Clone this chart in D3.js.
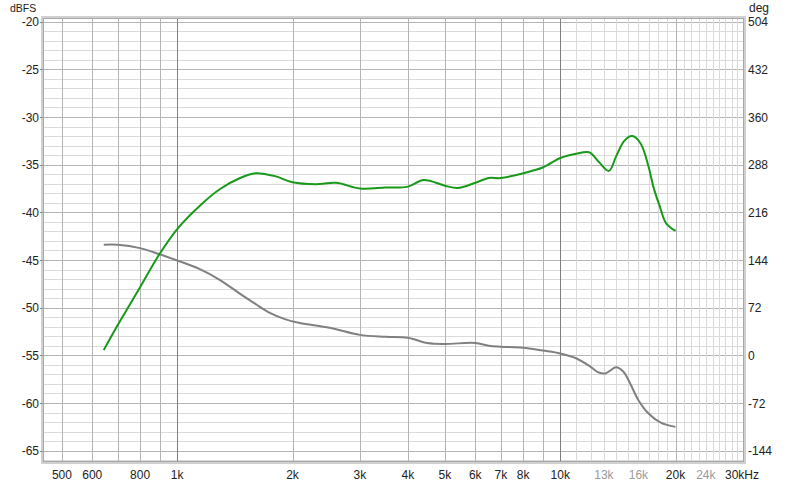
<!DOCTYPE html>
<html>
<head>
<meta charset="utf-8">
<script src="https://cdn.jsdelivr.net/npm/d3@7"></script>
<style>
  body { margin: 0; background: #fff; }
  text { font-family: "Liberation Sans", Arial, sans-serif; font-size: 12px; fill: #222; }
</style>
</head>
<body>
<script>
// frequency (Hz) / level (dBFS)
const greenFreq = [643, 700, 800, 900, 1000, 1146, 1294, 1460, 1600, 1800, 2000, 2300, 2600, 3000, 3500, 4000, 4400, 5000, 5400, 6000, 6500, 7000, 8000, 9000, 10000, 11000, 11900, 12600, 13400, 14000, 14700, 15400, 16200, 17000, 17500, 18200, 18900, 20000];
const greenDb   = [-54.45, -51.8, -47.85, -44.35, -41.75, -39.3, -37.55, -36.4, -35.9, -36.2, -36.85, -37.05, -36.9, -37.5, -37.4, -37.3, -36.6, -37.2, -37.45, -36.9, -36.4, -36.4, -35.9, -35.3, -34.3, -33.85, -33.7, -34.7, -35.65, -34.1, -32.5, -32.0, -32.75, -35.2, -37.3, -39.4, -41.15, -41.95];

const grayFreq = [643, 700, 800, 900, 1000, 1146, 1294, 1460, 1600, 1745, 1910, 2090, 2500, 3000, 3500, 4000, 4500, 5000, 6000, 6500, 7000, 8000, 9000, 10000, 11000, 12000, 12600, 13100, 14000, 14600, 15200, 16000, 17000, 18300, 20000];
const grayDb   = [-43.4, -43.4, -43.75, -44.4, -45.05, -45.95, -47.1, -48.55, -49.6, -50.55, -51.2, -51.6, -52.1, -52.85, -53.05, -53.15, -53.7, -53.8, -53.7, -54.0, -54.1, -54.2, -54.5, -54.8, -55.3, -56.2, -56.8, -56.9, -56.25, -56.7, -57.9, -59.7, -61.1, -62.05, -62.5];

const xTickFreq  = [500, 600, 800, 1000, 2000, 3000, 4000, 5000, 6000, 7000, 8000, 10000, 13000, 16000, 20000, 24000, 30000];
const xTickText  = ["500", "600", "800", "1k", "2k", "3k", "4k", "5k", "6k", "7k", "8k", "10k", "13k", "16k", "20k", "24k", "30kHz"];
const xTickFaint = [13000, 16000, 24000];
const yTicks     = [-20, -25, -30, -35, -40, -45, -50, -55, -60, -65];
const degTicks   = [504, 432, 360, 288, 216, 144, 72, 0, -72, -144];

const W = 800, H = 487;
const L = 44, R = 743, T = 19, B = 461;

const svg = d3.select("body").append("svg").attr("width", W).attr("height", H);

const x = d3.scaleLog().domain([449, 30000]).range([L, R]);
const y = d3.scaleLinear().domain([-66.08, -19.72]).range([B, T]);
// right axis: 72 deg per 5 dB, 0 deg at -55 dBFS
const yDeg = d3.scaleLinear().domain([(-66.08 + 55) * 14.4, (-19.72 + 55) * 14.4]).range([B, T]);

const grid = svg.append("g");

// horizontal grid
d3.range(-66, -19).forEach(v => {
  grid.append("line")
    .attr("x1", L).attr("x2", R)
    .attr("y1", Math.round(y(v)) + 0.5).attr("y2", Math.round(y(v)) + 0.5)
    .attr("stroke", v % 5 === 0 ? "#b4b4b4" : "#dadada");
});

// vertical grid
const lightF = d3.range(11000, 20000, 1000).concat(d3.range(21000, 30000, 1000));
const midF = d3.range(500, 1000, 100).concat(d3.range(2000, 10000, 1000), [20000]);
const darkF = [1000, 10000];
[[lightF, "#dadada"], [midF, "#b4b4b4"], [darkF, "#808080"]].forEach(([fs, c]) => {
  fs.forEach(f => {
    const px = Math.round(x(f)) + 0.5;
    grid.append("line")
      .attr("x1", px).attr("x2", px).attr("y1", T).attr("y2", B)
      .attr("stroke", c);
  });
});

// frame
svg.append("rect")
  .attr("x", L - 1.5).attr("y", T - 1.5).attr("width", R - L + 3).attr("height", B - T + 3)
  .attr("fill", "none").attr("stroke", "#d0d0d0").attr("stroke-width", 3);
svg.append("rect")
  .attr("x", L - 0.5).attr("y", T - 0.5).attr("width", R - L + 1).attr("height", B - T + 1)
  .attr("fill", "none").attr("stroke", "#a8a8a8");

// curves
const line = d3.line()
  .x(d => x(d[0]))
  .y(d => y(d[1]))
  .curve(d3.curveCatmullRom.alpha(0.5));

svg.append("path")
  .datum(grayFreq.map((f, i) => [f, grayDb[i]]))
  .attr("d", line).attr("fill", "none")
  .attr("stroke", "#808080").attr("stroke-width", 2);

svg.append("path")
  .datum(greenFreq.map((f, i) => [f, greenDb[i]]))
  .attr("d", line).attr("fill", "none")
  .attr("stroke", "#18991a").attr("stroke-width", 2);

// left axis
const left = svg.append("g");
yTicks.forEach(v => {
  left.append("line")
    .attr("x1", L - 4).attr("x2", L - 1)
    .attr("y1", Math.round(y(v)) + 0.5).attr("y2", Math.round(y(v)) + 0.5)
    .attr("stroke", "#888");
  left.append("text")
    .attr("x", 39).attr("y", y(v) + 4.5)
    .attr("text-anchor", "end")
    .text(v);
});
svg.append("text").attr("x", 10).attr("y", 12).style("font-size", "10.5px").text("dBFS");

// right axis
const right = svg.append("g");
degTicks.forEach(v => {
  right.append("text")
    .attr("x", 748).attr("y", yDeg(v) + 4.5)
    .text(v);
});
svg.append("text").attr("x", 749).attr("y", 12).text("deg");

// bottom axis
const bottom = svg.append("g");
xTickFreq.forEach((f, i) => {
  const t = bottom.append("text")
    .attr("x", x(f)).attr("y", 479)
    .attr("text-anchor", "middle")
    .text(xTickText[i]);
  if (xTickFaint.includes(f)) t.style("fill", "#9a9a9a");
  if (f === 30000) t.attr("text-anchor", "start").attr("x", 725);
});
</script>
</body>
</html>
